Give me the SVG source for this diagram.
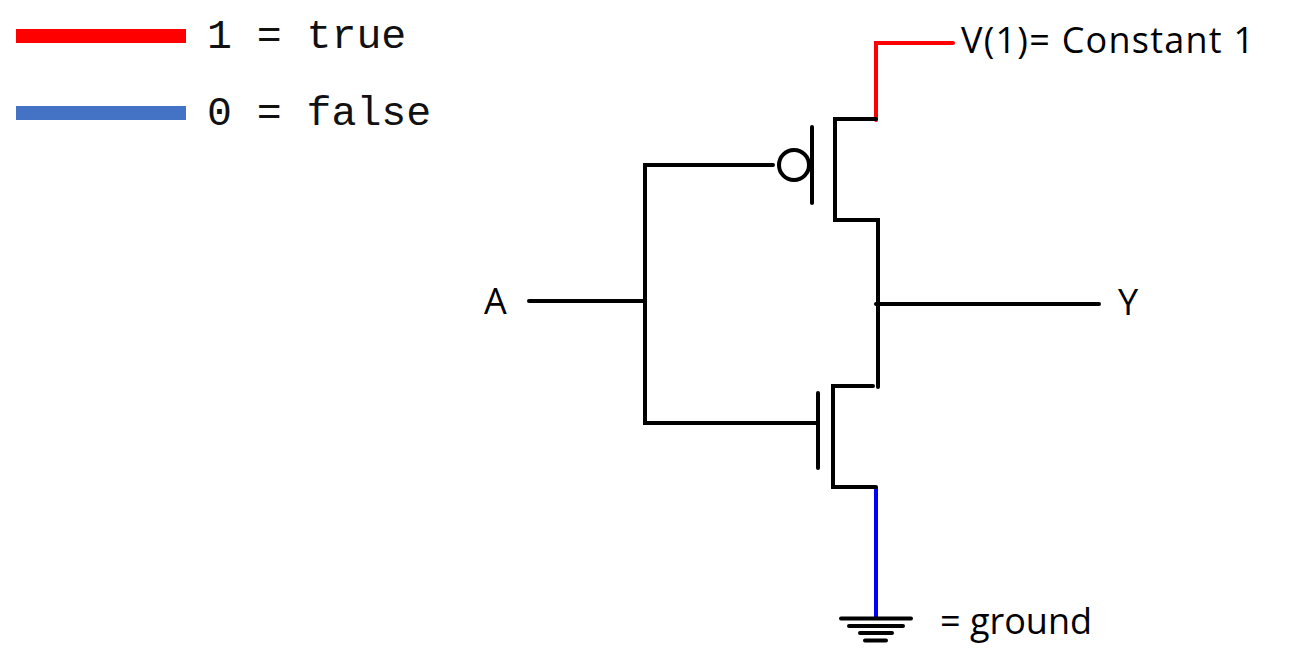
<svg xmlns="http://www.w3.org/2000/svg" width="1294" height="659" viewBox="0 0 1294 659">
<style>
.w{fill:none;stroke:#000;stroke-width:4;stroke-linecap:round;stroke-linejoin:miter}
.m{font-family:"Liberation Mono",monospace;font-size:41.500px;fill:#111}
.s{font-family:"Open Sans","Noto Sans",sans-serif;font-size:36px;fill:#000}
</style>
<rect width="1294" height="659" fill="#fff"/>
<g id="legend">
<rect x="16" y="29" width="170" height="14" fill="#ff0000"/>
<rect x="16" y="106" width="170" height="14" fill="#4472c4"/>
<text class="m" x="207" y="48">1 = true</text>
<text class="m" x="207" y="125">0 = false</text>
</g>
<g id="connectors">
<path d="M953 43H876V120" fill="none" stroke="#ff0000" stroke-width="4" stroke-linecap="round"/>
<path class="w" d="M773 165H645V423H816"/>
<path class="w" d="M529 301H645"/>
<path class="w" d="M876 304H1099"/>
<path d="M876 487V619" fill="none" stroke="#0000ff" stroke-width="4"/>
</g>
<g id="pmos">
<circle cx="794" cy="165" r="15" fill="none" stroke="#000" stroke-width="4"/>
<path class="w" d="M812 127V203"/>
<path class="w" d="M876 119H835V220H878V387"/>
</g>
<g id="nmos">
<path class="w" d="M818 393V468"/>
<path class="w" d="M873 386H833V487H876"/>
</g>
<g id="ground">
<path class="w" d="M841 618.500H911M849 626H903M860 633H892M865 640.500H886"/>
<text class="s" x="940" y="634">= ground</text>
</g>
<g id="label-v"><text class="s" x="961" y="53" textLength="293">V(1)= Constant 1</text></g>
<g id="label-a"><text class="s" x="484" y="314">A</text></g>
<g id="label-y"><text class="s" x="1118" y="315">Y</text></g>
</svg>
